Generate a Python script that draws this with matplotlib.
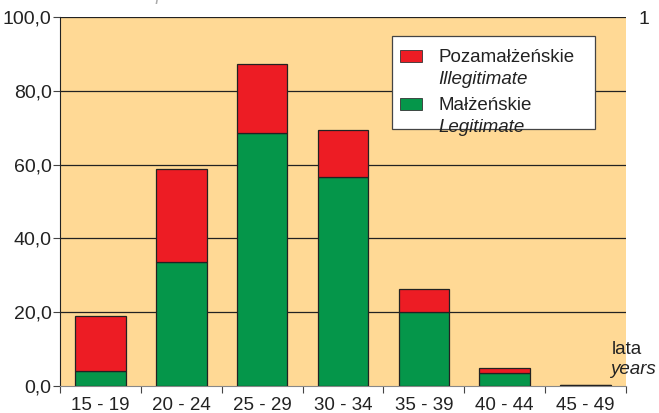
import numpy as np
import matplotlib
matplotlib.use('Agg')
import matplotlib.pyplot as plt
from matplotlib.patches import Rectangle

plt.rcParams['font.family'] = ['Liberation Sans', 'DejaVu Sans']

age_groups = ["15 - 19", "20 - 24", "25 - 29", "30 - 34", "35 - 39", "40 - 44", "45 - 49"]
legitimate = [4.0, 33.5, 68.5, 56.6, 20.0, 3.4, 0.2]
illegitimate = [14.9, 25.3, 18.8, 12.7, 6.2, 1.4, 0.05]
y_ticks = [0, 20, 40, 60, 80, 100]

red = "#ED1C24"
green = "#05964A"
bg = "#FFD995"

W, H = 659, 413
fig = plt.figure(figsize=(W / 100, H / 100), dpi=100)
ax = fig.add_axes([60 / W, 1 - 386 / H, 566 / W, 369 / H])
ax.set_facecolor(bg)

x = np.arange(len(age_groups))
w = 0.625
ax.bar(x, legitimate, w, color=green, edgecolor="#222222", linewidth=0.9, zorder=3)
ax.bar(x, illegitimate, w, bottom=legitimate, color=red, edgecolor="#222222",
       linewidth=0.9, zorder=3)

ax.set_xlim(-0.5, len(age_groups) - 0.5)
ax.set_ylim(0, 100)

for v in y_ticks[1:]:
    ax.axhline(v, color="#222222", linewidth=0.9, zorder=1)

ax.set_yticks(y_ticks)
ax.set_yticklabels([f"{v:.1f}".replace(".", ",") for v in y_ticks], fontsize=14,
                   color="#222222")
ax.set_xticks(np.arange(-0.5, len(age_groups)), minor=False)
ax.set_xticklabels([])
ax.set_xticks(x, minor=True)
ax.set_xticklabels(age_groups, minor=True, fontsize=13.5, color="#222222")
ax.tick_params(axis="x", which="minor", length=0, pad=8)
ax.tick_params(axis="x", which="major", length=5, color="#444444")
ax.tick_params(axis="y", length=5, color="#444444", pad=1)

for s in ["top", "right"]:
    ax.spines[s].set_visible(False)
ax.spines["left"].set_color("#222222")
ax.spines["bottom"].set_color("#888888")


def ax_x(px):
    return (px - 60) / 566


def ax_y(py):
    return (386 - py) / 369


# legend drawn by hand (two-line labels with italic second line)
ax.add_patch(Rectangle((ax_x(392), ax_y(129)), ax_x(595) - ax_x(392), ax_y(36) - ax_y(129),
                       transform=ax.transAxes, facecolor="white", edgecolor="#444444",
                       linewidth=0.9, zorder=5))
items = [(red, "Pozamałżeńskie", "Illegitimate", 56),
         (green, "Małżeńskie", "Legitimate", 104)]
for col, pl, en, py in items:
    ax.add_patch(Rectangle((ax_x(400), ax_y(py + 6)), ax_x(422) - ax_x(400), 12 / 369,
                           transform=ax.transAxes, facecolor=col, edgecolor="#333333",
                           linewidth=0.6, zorder=6))
    ax.text(ax_x(438), ax_y(py + 2), pl, transform=ax.transAxes, fontsize=13.5,
            va="center", zorder=6, color="#222222")
    ax.text(ax_x(438), ax_y(py + 23), en, transform=ax.transAxes, fontsize=13.5,
            style="italic", va="center", zorder=6, color="#222222")

fig.text(612 / W, 1 - 349 / H, "lata", fontsize=13.5, va="center", color="#222222")
fig.text(610 / W, 1 - 370 / H, "years", fontsize=13.5, style="italic",
         va="center", color="#222222")
fig.text(638 / W, 1 - 19 / H, "1", fontsize=14, va="center", color="#222222")
fig.text(10 / W, 1 - 0.5 / H, "Na 1000 kobiet     per 1000 women", fontsize=13,
         style="italic", va="baseline", color="#aaaaaa")

fig.savefig("out.png", dpi=100)
